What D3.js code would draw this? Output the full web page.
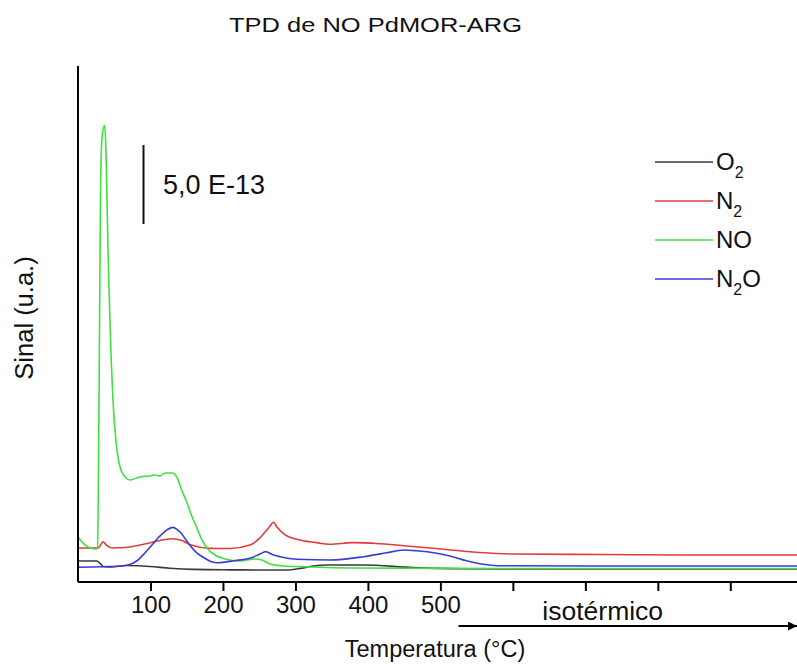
<!DOCTYPE html>
<html><head><meta charset="utf-8">
<script src="https://cdn.jsdelivr.net/npm/d3@7"></script>
<style>
html,body{margin:0;padding:0;background:#fff;}
svg{display:block;font-family:"Liberation Sans",Arial,Helvetica,sans-serif;}
</style></head>
<body><svg id="c" width="797" height="664"></svg>
<script>
// x: temperature (°C, linear ramp then isothermal), y: signal in units of 1E-13 (u.a.)
const o2X  = [0,26,30,35,44,67,99,127,159,210,251,288,306,324,343,394,463,531,720,992];
const o2Y  = [1.33,1.33,1.20,0.98,0.96,1.04,0.98,0.87,0.80,0.77,0.76,0.76,0.85,1.01,1.08,1.08,0.91,0.84,0.82,0.82];
const n2X  = [0,28,32,34.5,39,48,65,92,113,131,143,156,183,210,237,248,258,265,269.4,274.5,283,302,329,348,379,417,462,508,554,600,720,858,992];
const n2Y  = [2.15,2.15,2.41,2.55,2.34,2.15,2.18,2.41,2.63,2.74,2.63,2.34,2.13,2.12,2.34,2.66,3.16,3.54,3.78,3.48,3.08,2.70,2.49,2.39,2.49,2.42,2.25,2.06,1.87,1.77,1.74,1.71,1.71];
const noX  = [0,10,25,27,29,31,33,36.6,38.6,41.4,44,48.3,53.8,58,65,72,85,99,106,113,120,130,137,143,150,157,164,171,179,189,203,223,244,254,265,285,320,375,500,700,992];
const noY  = [2.85,2.34,2.09,2.15,11.5,24.2,28.0,28.9,27.3,21.0,16.6,11.5,8.35,7.28,6.65,6.46,6.65,6.71,6.77,6.71,6.9,6.9,6.58,5.82,5.06,4.18,3.42,2.66,2.09,1.71,1.46,1.33,1.46,1.39,1.14,1.01,0.95,0.89,0.86,0.85,0.85];
const n2oX = [0,37,51,69,81,92,102,110,119,124,131,137,142.5,149,156,164,175,183,193,216,237,251,259,268,279,302,348,394,426,449,467,495,513,536,559,578,720,992];
const n2oY = [0.93,0.97,0.98,1.08,1.33,1.82,2.34,2.77,3.16,3.34,3.46,3.32,3.08,2.66,2.23,1.84,1.50,1.30,1.22,1.35,1.50,1.77,1.92,1.74,1.60,1.44,1.39,1.60,1.85,2.03,1.98,1.82,1.65,1.35,1.12,1.03,1.01,1.01];

const seriesNames  = ["O2","N2","NO","N2O"];
const seriesColors = ["#3a3a3a","#e33b3b","#3fe03f","#3b3bd6"];
const xTicks = [100,200,300,400,500,600,700,800,900];
const xTickLabels = ["100","200","300","400","500","","","",""];
const scaleBar = {from: 22.66, length: 5.0, label: "5,0 E-13"};
const title = "TPD de NO PdMOR-ARG";
const xTitle = "Temperatura (°C)";
const yTitle = "Sinal (u.a.)";
const isoLabel = "isotérmico";

const series = [
  {name:"O2",  x:o2X,  y:o2Y},
  {name:"N2",  x:n2X,  y:n2Y},
  {name:"NO",  x:noX,  y:noY},
  {name:"N2O", x:n2oX, y:n2oY}
];

const svg = d3.select("#c");
const L = 78, R = 797, T = 66, B = 582;
const x = d3.scaleLinear().domain([0, 992]).range([L, R]);
const y = d3.scaleLinear().domain([0, 32.66]).range([B, T]);

// title
svg.append("text").attr("x", 375.5).attr("y", 32).attr("text-anchor","middle")
  .attr("font-size", 20).attr("fill","#111")
  .attr("textLength", 293).attr("lengthAdjust","spacingAndGlyphs").text(title);

// curves
const line = d3.line().x(d=>x(d[0])).y(d=>y(d[1])).curve(d3.curveMonotoneX);
series.forEach((s,i)=>{
  const pts = s.x.map((v,j)=>[v, s.y[j]]);
  svg.append("path").attr("d", line(pts)).attr("fill","none")
    .attr("stroke", seriesColors[i]).attr("stroke-width",1.6).attr("stroke-linejoin","round");
});

// axes
const xAxis = d3.axisBottom(x).tickValues(xTicks).tickSize(9).tickPadding(5)
  .tickFormat((d,i)=>xTickLabels[i]);
const gx = svg.append("g").attr("transform",`translate(0,${B})`).call(xAxis);
gx.select(".domain").attr("stroke","#000").attr("stroke-width",2).attr("d",`M${L},0H${R}`);
gx.selectAll(".tick line").attr("stroke","#000").attr("stroke-width",2);
gx.selectAll(".tick text").attr("font-size",24).attr("fill","#111")
  .attr("font-family","'Liberation Sans',Arial,sans-serif");

const gy = svg.append("g").attr("transform",`translate(${L},0)`)
  .call(d3.axisLeft(y).tickValues([]).tickSize(0));
gy.select(".domain").attr("stroke","#000").attr("stroke-width",2).attr("d",`M0,${T}V${B}`);

// axis titles
svg.append("text").attr("x", 435).attr("y", 657).attr("text-anchor","middle")
  .attr("font-size", 23.5).attr("fill","#111").text(xTitle);
svg.append("text").attr("transform","translate(33,318) rotate(-90)").attr("text-anchor","middle")
  .attr("font-size", 25.5).attr("fill","#111").text(yTitle);

// isothermal arrow
svg.append("defs").append("marker").attr("id","ah").attr("viewBox","0 0 10 10")
  .attr("refX",10).attr("refY",5).attr("markerWidth",9).attr("markerHeight",9)
  .attr("markerUnits","userSpaceOnUse").attr("orient","auto")
  .append("path").attr("d","M0,0L10,5L0,10Z").attr("fill","#000");
svg.append("line").attr("x1", x(525)).attr("x2", R).attr("y1",626).attr("y2",626)
  .attr("stroke","#000").attr("stroke-width",2).attr("marker-end","url(#ah)");
svg.append("text").attr("x", x(724)).attr("y", 620).attr("text-anchor","middle")
  .attr("font-size", 26.5).attr("fill","#111").text(isoLabel);

// scale bar
svg.append("line").attr("x1",143.5).attr("x2",143.5)
  .attr("y1", y(scaleBar.from)).attr("y2", y(scaleBar.from + scaleBar.length))
  .attr("stroke","#111").attr("stroke-width",2);
svg.append("text").attr("x",163).attr("y",194).attr("font-size",27).attr("fill","#111").text(scaleBar.label);

// legend
const legY = [162, 201, 240, 279];
const leg = svg.append("g");
seriesNames.forEach((n,i)=>{
  leg.append("line").attr("x1",655).attr("x2",713).attr("y1",legY[i]).attr("y2",legY[i])
    .attr("stroke",seriesColors[i]).attr("stroke-width",1.6);
  const t = leg.append("text").attr("x",716).attr("y",legY[i]+8).attr("font-size",24).attr("fill","#111");
  if (n==="O2"){ t.append("tspan").text("O"); t.append("tspan").attr("font-size",16).attr("dy",8).text("2"); }
  else if (n==="N2"){ t.append("tspan").text("N"); t.append("tspan").attr("font-size",16).attr("dy",8).text("2"); }
  else if (n==="N2O"){ t.append("tspan").text("N"); t.append("tspan").attr("font-size",16).attr("dy",8).text("2"); t.append("tspan").attr("dy",-8).text("O"); }
  else t.text(n);
});
</script></body></html>
